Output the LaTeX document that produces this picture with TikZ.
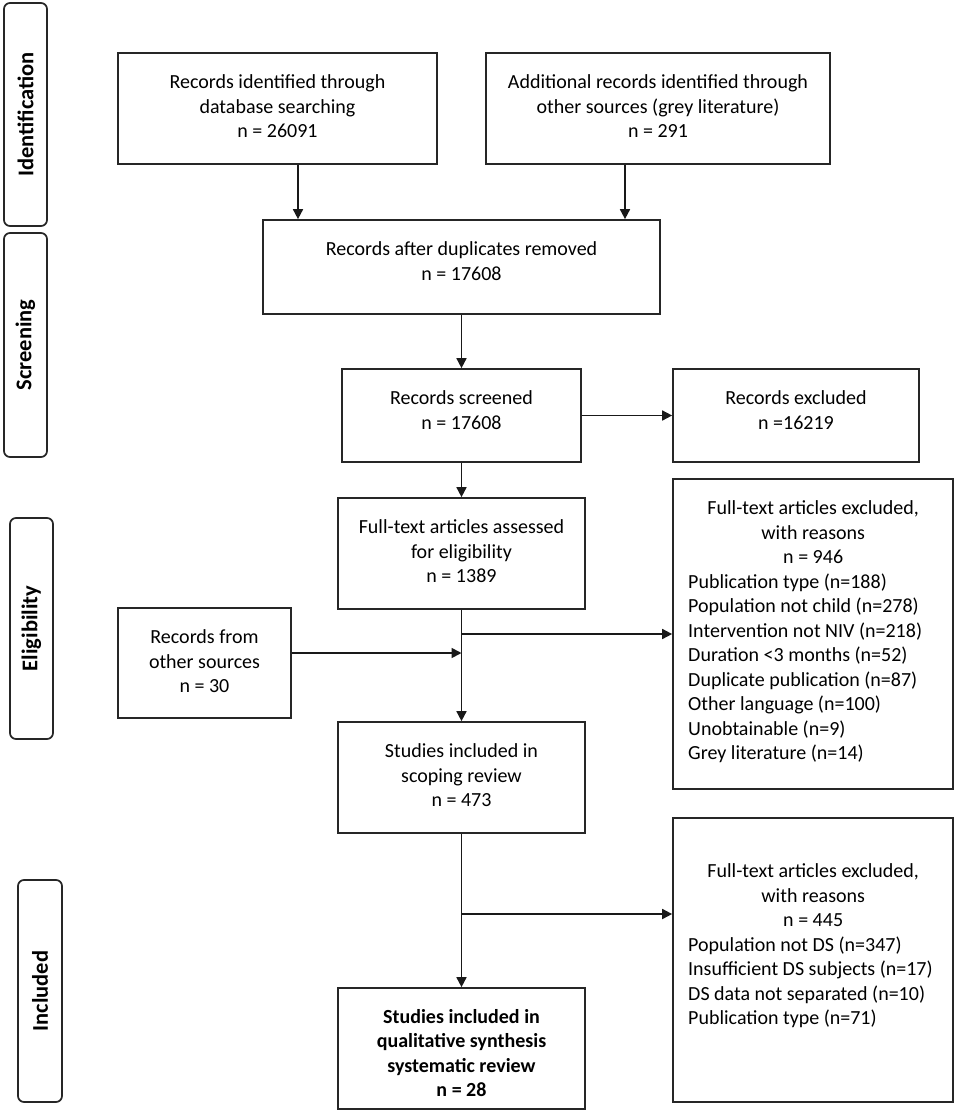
\documentclass[tikz,border=0pt]{standalone}
\usepackage{fontspec}
\setmainfont{Carlito}
\usetikzlibrary{arrows.meta,calc}
\begin{document}
\begin{tikzpicture}[x=1pt,y=-1pt,
  box/.style={draw=black!85, line width=1.7pt, rectangle, inner sep=0pt},
  txt/.style={anchor=north, inner sep=0pt, align=center, font=\fontsize{20}{24.5}\selectfont},
  listtxt/.style={anchor=north west, inner sep=0pt, align=left, font=\fontsize{20}{24.5}\selectfont},
  phase/.style={draw=black!85, line width=1.7pt, rounded corners=6pt, inner sep=0pt},
  phasetxt/.style={rotate=90, inner sep=0pt, font=\fontsize{22.5}{26}\selectfont\bfseries},
  arr/.style={draw=black!90, line width=1.7pt, -{Triangle[length=10pt,width=10pt]}}]
\useasboundingbox (0,0) rectangle (957,1114);
\fill[white] (0,0) rectangle (957,1114);

% phase labels
\node[phase, minimum width=43pt, minimum height=223pt] (p1) at (25.5,114.5) {};
\node[phasetxt] (p1t) at (p1.center) {Identification};
\node[phase, minimum width=43pt, minimum height=224pt] (p2) at (25.5,345) {};
\node[phasetxt] (p2t) at (p2.center) {Screening};
\node[phase, minimum width=43pt, minimum height=221pt] (p3) at (31.5,628.5) {};
\node[phasetxt] (p3t) at (p3.center) {Eligibility};
\node[phase, minimum width=44pt, minimum height=222pt] (p4) at (40,991) {};
\node[phasetxt] (p4t) at (p4.center) {Included};

% boxes
\node[box, minimum width=319pt, minimum height=111pt] (b1) at (277.5,108.5) {};
\node[txt] (b1t) at (277.5,74.5) {Records identified through\\database searching\\n = 26091};

\node[box, minimum width=344pt, minimum height=111pt] (b2) at (658,108.5) {};
\node[txt] (b2t) at (658,74.5) {Additional records identified through\\other sources (grey literature)\\n = 291};

\node[box, minimum width=397pt, minimum height=94pt] (b3) at (461.5,267) {};
\node[txt] (b3t) at (461.5,241.5) {Records after duplicates removed\\n = 17608};

\node[box, minimum width=239pt, minimum height=93pt] (b4) at (461.5,415.5) {};
\node[txt] (b4t) at (461.5,390.5) {Records screened\\n = 17608};

\node[box, minimum width=246pt, minimum height=93pt] (ex0) at (796,415.5) {};
\node[txt] (ex0t) at (796,390.5) {Records excluded\\n =16219};

\node[box, minimum width=247pt, minimum height=111pt] (b6) at (461.5,553.5) {};
\node[txt] (b6t) at (461.5,519.5) {Full-text articles assessed\\for eligibility\\n = 1389};

\node[box, minimum width=280pt, minimum height=310pt] (ex1) at (813,634) {};
\node[listtxt] (ex1t) at (688,500.5) {\makebox[250pt]{Full-text articles excluded,}\\
  \makebox[250pt]{with reasons}\\
  \makebox[250pt]{n = 946}\\
  Publication type (n=188)\\
  Population not child (n=278)\\
  Intervention not NIV (n=218)\\
  Duration <3 months (n=52)\\
  Duplicate publication (n=87)\\
  Other language (n=100)\\
  Unobtainable (n=9)\\
  Grey literature (n=14)};

\node[box, minimum width=173pt, minimum height=110pt] (oth) at (204.5,663) {};
\node[txt] (otht) at (204.5,629.5) {Records from\\other sources\\n = 30};

\node[box, minimum width=247pt, minimum height=111pt] (b8) at (461.5,777.5) {};
\node[txt] (b8t) at (461.5,743.5) {Studies included in\\scoping review\\n = 473};

\node[box, minimum width=280pt, minimum height=284pt] (ex2) at (813,960) {};
\node[listtxt] (ex2t) at (688,863.5) {\makebox[250pt]{Full-text articles excluded,}\\
  \makebox[250pt]{with reasons}\\
  \makebox[250pt]{n = 445}\\
  Population not DS (n=347)\\
  Insufficient DS subjects (n=17)\\
  DS data not separated (n=10)\\
  Publication type (n=71)};

\node[box, minimum width=247pt, minimum height=121pt] (b9) at (461.5,1048.5) {};
\node[txt, font=\fontsize{20}{24.5}\selectfont\bfseries] (b9t) at (461.5,1009) {Studies included in\\qualitative synthesis\\systematic review\\n = 28};

% connectors
\draw[arr] ([xshift=20.5pt]b1.south) -- ([xshift=20.5pt]b1.south |- b3.north);
\draw[arr] ([xshift=-33pt]b2.south) -- ([xshift=-33pt]b2.south |- b3.north);
\draw[arr] (b3.south) -- (b4.north);
\draw[arr] (b4.east) -- (ex0.west);
\draw[arr] (b4.south) -- (b6.north);
\draw[arr] (b6.south) -- (b8.north);
\draw[arr] (b6.south |- ex1.west) -- (ex1.west);
\draw[arr] ([yshift=10pt]oth.east) -- ([yshift=10pt]oth.east -| b6.south);
\draw[arr] (b8.south) -- (b9.north);
\coordinate (j2) at (461.5,914);
\draw[arr] (b8.south |- j2) -- (j2 -| ex2.west);
\end{tikzpicture}
\end{document}
